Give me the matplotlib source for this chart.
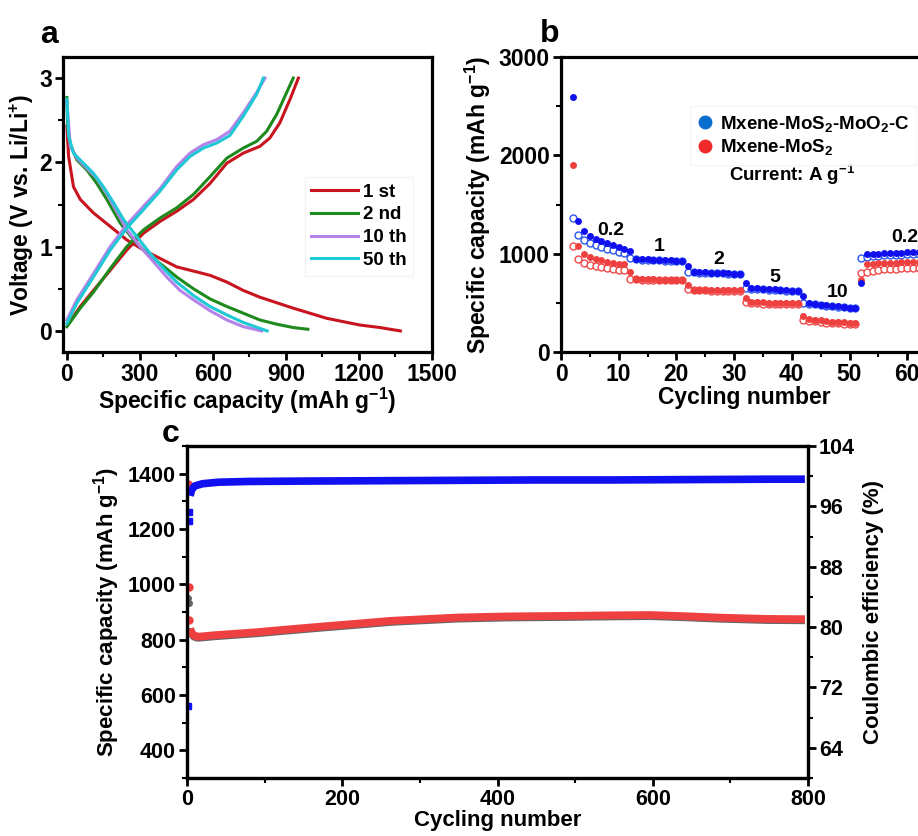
import matplotlib
matplotlib.use("Agg")
import matplotlib.pyplot as plt
from matplotlib.lines import Line2D
from matplotlib.ticker import MultipleLocator

plt.rcParams.update({
    'font.family': ['Liberation Sans', 'DejaVu Sans'],
    'font.weight': 'bold',
    'axes.labelweight': 'bold',
    'mathtext.fontset': 'custom',
    'mathtext.rm': 'Liberation Sans:bold',
    'mathtext.it': 'Liberation Sans:bold',
    'mathtext.bf': 'Liberation Sans:bold',
    'mathtext.default': 'rm',
})

# ---------------- Panel a data (capacity mAh/g, voltage V) ----------------
d1_cap = [0, 7, 27, 55, 109, 178, 246, 315, 383, 451, 520, 588, 657, 725, 793, 930, 1067, 1204, 1286, 1370]
d1_v = [2.43, 2.07, 1.71, 1.56, 1.40, 1.24, 1.08, 0.96, 0.86, 0.76, 0.71, 0.66, 0.58, 0.48, 0.40, 0.27, 0.15, 0.07, 0.04, 0.0]
c1_cap = [7, 55, 109, 178, 246, 315, 383, 451, 520, 588, 657, 725, 793, 834, 875, 917, 951]
c1_v = [0.09, 0.29, 0.48, 0.72, 0.96, 1.16, 1.30, 1.42, 1.56, 1.75, 1.99, 2.11, 2.19, 2.29, 2.47, 2.75, 3.0]

d2_cap = [0, 3, 14, 41, 82, 123, 164, 219, 274, 328, 383, 451, 520, 588, 657, 725, 793, 862, 930, 990]
d2_v = [2.77, 2.43, 2.21, 2.03, 1.91, 1.75, 1.56, 1.28, 1.08, 0.92, 0.80, 0.64, 0.50, 0.38, 0.29, 0.21, 0.13, 0.08, 0.04, 0.02]
c2_cap = [0, 55, 109, 178, 246, 315, 383, 451, 520, 588, 657, 725, 780, 821, 862, 903, 930]
c2_v = [0.05, 0.27, 0.46, 0.74, 1.00, 1.20, 1.34, 1.46, 1.62, 1.83, 2.05, 2.17, 2.25, 2.37, 2.57, 2.83, 3.0]

d10_cap = [0, 14, 41, 82, 123, 164, 205, 246, 301, 356, 410, 465, 520, 588, 657, 725, 800]
d10_v = [2.72, 2.19, 2.05, 1.93, 1.81, 1.63, 1.42, 1.20, 1.00, 0.82, 0.64, 0.48, 0.37, 0.24, 0.13, 0.05, 0.0]
c10_cap = [0, 41, 109, 178, 246, 315, 383, 451, 506, 561, 616, 670, 725, 780, 814]
c10_v = [0.13, 0.37, 0.68, 1.00, 1.26, 1.48, 1.69, 1.95, 2.11, 2.21, 2.27, 2.37, 2.59, 2.83, 3.0]

d50_cap = [0, 7, 27, 68, 109, 150, 192, 233, 287, 342, 397, 451, 520, 588, 657, 725, 793, 823]
d50_v = [2.75, 2.31, 2.11, 1.99, 1.87, 1.71, 1.52, 1.32, 1.12, 0.92, 0.74, 0.58, 0.42, 0.29, 0.19, 0.10, 0.03, 0.0]
c50_cap = [0, 41, 109, 178, 246, 315, 383, 451, 506, 561, 616, 670, 725, 780, 807]
c50_v = [0.09, 0.33, 0.64, 0.96, 1.22, 1.44, 1.66, 1.91, 2.07, 2.17, 2.23, 2.32, 2.55, 2.81, 3.0]

legend_a = ['1 st', '2 nd', '10 th', '50 th']
colors_a = ['#C8141E', '#1E8A1E', '#B482EA', '#1EC8D4']

# ---------------- Panel b data ----------------
cyc_b = list(range(2, 63))
blue_fill = [2590, 1335, 1230, 1178, 1153, 1129, 1108, 1088, 1068, 1048, 1030,
             950, 945, 942, 940, 937, 935, 932, 930, 928,
             872, 815, 812, 810, 808, 805, 803, 800, 798, 796,
             705, 652, 648, 644, 640, 636, 632, 628, 625, 622,
             571, 497, 490, 483, 476, 470, 464, 458, 452, 447,
             705, 994, 997, 1000, 1003, 1006, 1008, 1010, 1012, 1015, 1017]
blue_open = [1362, 1190, 1139, 1112, 1088, 1068, 1051, 1034, 1021, 1004, 955,
             945, 940, 937, 935, 932, 930, 928, 925, 923,
             818, 810, 808, 806, 804, 801, 799, 797, 795, 792,
             648, 645, 642, 638, 634, 630, 626, 622, 620, 618,
             497, 490, 484, 478, 472, 466, 460, 454, 448, 443,
             955, 965, 972, 978, 982, 985, 988, 990, 992, 994, 996]
red_fill = [1900, 1075, 1000, 970, 950, 934, 920, 910, 900, 890, 810,
            745, 742, 740, 738, 737, 736, 735, 734, 733,
            683, 635, 633, 632, 631, 630, 629, 628, 627, 626,
            548, 510, 507, 505, 503, 501, 500, 499, 498, 497,
            368, 335, 328, 322, 316, 310, 306, 302, 298, 294,
            730, 892, 897, 901, 904, 907, 909, 911, 913, 915, 916]
red_open = [1082, 943, 905, 885, 872, 860, 850, 843, 837, 833, 745,
            738, 736, 734, 733, 732, 731, 730, 729, 728,
            640, 628, 627, 626, 625, 624, 623, 622, 621, 620,
            505, 495, 494, 493, 492, 491, 491, 490, 490, 489,
            330, 318, 312, 306, 300, 296, 292, 289, 287, 285,
            808, 814, 828, 836, 842, 846, 849, 851, 853, 855, 857]
rate_labels = ['0.2', '1', '2', '5', '10', '0.2']
rate_x = [8.7, 17, 27.3, 37, 48, 59.5]
rate_y = [1237, 1075, 943, 757, 605, 1163]
legend_b = ['Mxene-MoS$_2$-MoO$_2$-C', 'Mxene-MoS$_2$']

# ---------------- Panel c data ----------------
cyc_c_first = [1, 2, 3]
dis_first = [1364, 990, 872]
chg_first = [952, 932, 830]
cyc_c = [4, 6, 9, 13, 20, 35, 60, 90, 130, 176, 220, 262, 305, 348, 412, 489, 550, 597, 640, 683, 747, 796]
dis_c = [840, 825, 815, 811, 812, 816, 821, 827, 837, 848, 858, 868, 874, 880, 884, 886, 888, 889, 885, 880, 875, 874]
chg_c = [836, 821, 811, 807, 808, 812, 817, 823, 833, 844, 854, 864, 870, 876, 880, 882, 884, 885, 881, 876, 871, 870]
ce_first_cyc = [1, 2, 3]
ce_first = [69.5, 94.1, 95.2]
ce_cyc = [4, 6, 10, 20, 40, 80, 150, 250, 350, 450, 550, 650, 750, 796]
ce_c = [97.4, 98.2, 98.7, 99.0, 99.2, 99.3, 99.35, 99.4, 99.45, 99.5, 99.5, 99.55, 99.6, 99.6]

W, H = 918, 836
fig = plt.figure(figsize=(W / 100, H / 100), dpi=100)


def box(l, t, r, b):
    return [l / W, 1 - b / H, (r - l) / W, (b - t) / H]


def style(ax, fs=16.5):
    for s in ax.spines.values():
        s.set_linewidth(2.3)
    ax.tick_params(which='major', direction='out', length=6, width=2, labelsize=fs, pad=2)
    ax.tick_params(which='minor', direction='out', length=3.5, width=1.5)


# ---- Panel a ----
axa = fig.add_axes(box(63, 57, 432, 352))
curves = [(d1_cap, d1_v, c1_cap, c1_v), (d2_cap, d2_v, c2_cap, c2_v),
          (d10_cap, d10_v, c10_cap, c10_v), (d50_cap, d50_v, c50_cap, c50_v)]
for (dc, dv, cc, cv), col, lab in zip(curves, colors_a, legend_a):
    axa.plot(dc, dv, color=col, lw=2.2, label=lab, solid_joinstyle='round')
    axa.plot(cc, cv, color=col, lw=2.2, solid_joinstyle='round')
axa.set_xlim(-16, 1500)
axa.set_ylim(-0.25, 3.25)
axa.xaxis.set_major_locator(MultipleLocator(300))
axa.xaxis.set_minor_locator(MultipleLocator(150))
axa.yaxis.set_major_locator(MultipleLocator(1))
axa.yaxis.set_minor_locator(MultipleLocator(0.5))
style(axa)
axa.set_xlabel('Specific capacity (mAh g$^{-1}$)', fontsize=16.5, labelpad=0)
axa.set_ylabel('Voltage (V vs. Li/Li$^{+}$)', fontsize=16.5, labelpad=2)
leg = axa.legend(loc='upper left', bbox_to_anchor=(0.63, 0.625), fontsize=13.5, frameon=True,
                 handlelength=2.5, handletextpad=0.25, labelspacing=0.3, borderpad=0.35,
                 fancybox=False, edgecolor='#f2f2f2')
for t in leg.get_texts():
    t.set_fontweight('bold')
fig.text(40 / W, 1 - 43 / H, 'a', fontsize=23, fontweight='bold')

# ---- Panel b ----
axb = fig.add_axes(box(561, 57, 928, 352))
axb.plot(cyc_b, blue_open, 'o', ms=5, mfc='white', mec='#2a55f0', mew=1.0, zorder=3)
axb.plot(cyc_b, red_open, 'o', ms=5, mfc='white', mec='#f04848', mew=1.0, zorder=3)
axb.plot(cyc_b, red_fill, 'o', ms=5, color='#ef4040', mec='none', zorder=4)
axb.plot(cyc_b, blue_fill, 'o', ms=5, color='#1010ee', mec='none', zorder=4)
axb.set_xlim(0, 63.6)
axb.set_ylim(0, 3000)
axb.xaxis.set_major_locator(MultipleLocator(10))
axb.xaxis.set_minor_locator(MultipleLocator(5))
axb.yaxis.set_major_locator(MultipleLocator(1000))
axb.yaxis.set_minor_locator(MultipleLocator(500))
style(axb)
axb.set_xlabel('Cycling number', fontsize=16.5, labelpad=0)
axb.set_ylabel('Specific capacity (mAh g$^{-1}$)', fontsize=16.5, labelpad=4)
for lab, x, y in zip(rate_labels, rate_x, rate_y):
    axb.text(x, y, lab, fontsize=14, fontweight='bold', ha='center', va='center')
hb = [Line2D([], [], ls='none', marker='o', ms=9, color='#0a6ecf'),
      Line2D([], [], ls='none', marker='o', ms=9, color='#f02a2a')]
legb = axb.legend(hb, legend_b, loc='upper left', bbox_to_anchor=(0.325, 0.865), fontsize=13.5,
                  frameon=True, fancybox=False, edgecolor='#f4f4f4', handlelength=0.8,
                  handletextpad=0.4, labelspacing=0.2, borderpad=0.4)
axb.text(40, 1800, 'Current: A g$^{-1}$', fontsize=13.5, ha='center', va='center')
fig.text(540 / W, 1 - 42 / H, 'b', fontsize=23, fontweight='bold')

# ---- Panel c ----
axc = fig.add_axes(box(187, 446, 808, 778))
axc.plot(cyc_c, chg_c, color='#666666', lw=5.6, solid_capstyle='butt', zorder=2)
axc.plot(cyc_c, dis_c, color='#ee4040', lw=5.6, solid_capstyle='butt', zorder=3)
axc.plot(cyc_c_first, chg_first, 'o', ms=4, color='#666666', zorder=2)
axc.plot(cyc_c_first, dis_first, 'o', ms=5, color='#ee4040', zorder=3)
axc.set_xlim(0, 800)
axc.set_ylim(300, 1500)
axc.xaxis.set_major_locator(MultipleLocator(200))
axc.xaxis.set_minor_locator(MultipleLocator(100))
axc.yaxis.set_minor_locator(MultipleLocator(100))
axc.set_yticks([400, 600, 800, 1000, 1200, 1400])
style(axc, fs=15.5)
axc.set_xlabel('Cycling number', fontsize=16, labelpad=0)
axc.set_ylabel('Specific capacity (mAh g$^{-1}$)', fontsize=16, labelpad=4)

ax2 = axc.twinx()
ax2.plot(ce_cyc, ce_c, color='#1010f0', lw=5.5, solid_capstyle='butt')
ax2.plot(ce_first_cyc, ce_first, 's', ms=4, color='#1010f0')
ax2.set_ylim(60, 104)
ax2.set_yticks([64, 72, 80, 88, 96, 104])
ax2.yaxis.set_minor_locator(MultipleLocator(4))
style(ax2, fs=15.5)
ax2.set_ylabel('Coulombic efficiency (%)', fontsize=16, labelpad=6)
fig.text(162 / W, 1 - 442 / H, 'c', fontsize=23, fontweight='bold')

fig.savefig('out.png', dpi=100)
